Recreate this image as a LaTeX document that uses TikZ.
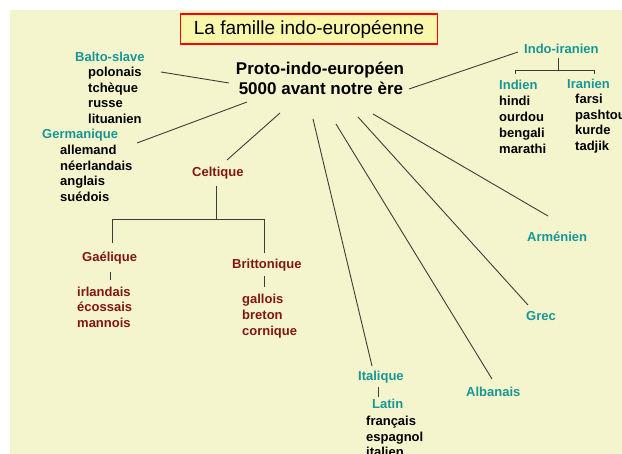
\documentclass[tikz,border=0pt]{standalone}
\usepackage{fontspec}
\setmainfont{Liberation Sans}
\definecolor{bg}{RGB}{245,245,205}
\definecolor{titlefill}{RGB}{248,247,170}
\definecolor{tealc}{RGB}{24,150,150}
\definecolor{dkred}{RGB}{128,22,22}
\definecolor{linec}{RGB}{60,60,60}
\tikzset{
  lang/.style={font=\fontsize{13}{15}\selectfont\bfseries, inner sep=0, anchor=base west},
  grp/.style={lang, text=tealc},
  celt/.style={lang, text=dkred},
  link/.style={draw=linec, line width=0.9pt},
}
\begin{document}
\begin{tikzpicture}[x=1pt,y=-1pt]
\useasboundingbox (0,0) rectangle (622,454);
\fill[bg] (10,10) rectangle (622,454);
% title
\node[draw=red, line width=1.5pt, fill=titlefill, minimum width=257pt, minimum height=30pt, inner sep=0,
      font=\fontsize{19}{22}\selectfont] (title) at (309,29) {La famille indo-européenne};
% root
\node[font=\fontsize{17}{20}\selectfont\bfseries, inner sep=0, anchor=base] (proto1) at (320,75) {Proto-indo-européen};
\node[font=\fontsize{17}{20}\selectfont\bfseries, inner sep=0, anchor=base] (proto2) at (321,95) {5000 avant notre ère};
% groups
\node[grp] (balto) at (75,61.5) {Balto-slave};
\node[grp] (germ) at (42,138.5) {Germanique};
\node[grp] (indoir) at (524,53.5) {Indo-iranien};
\node[grp] (indien) at (499,89.5) {Indien};
\node[grp] (iranien) at (567,88.5) {Iranien};
\node[grp] (armen) at (527,241.5) {Arménien};
\node[grp] (grec) at (526,320.5) {Grec};
\node[grp] (ital) at (358,380.5) {Italique};
\node[grp] (latin) at (372,408.5) {Latin};
\node[grp] (alb) at (466,396.5) {Albanais};
\node[celt] (celtique) at (192,176.5) {Celtique};
\node[celt] (gael) at (82,261.5) {Gaélique};
\node[celt] (britt) at (232,268.5) {Brittonique};
% lists
\foreach \t [count=\i] in {polonais,tchèque,russe,lituanien}
  \node[lang] (bs\i) at (88,76.5+15.7*\i-15.7) {\t};
\foreach \t [count=\i] in {allemand,néerlandais,anglais,suédois}
  \node[lang] (ge\i) at (60,154.5+15.7*\i-15.7) {\t};
\foreach \t [count=\i] in {hindi,ourdou,bengali,marathi}
  \node[lang] (in\i) at (499,105.5+16*\i-16) {\t};
\foreach \t [count=\i] in {farsi,pashtou,kurde,tadjik}
  \node[lang] (ir\i) at (575,103.5+15.7*\i-15.7) {\t};
\foreach \t [count=\i] in {français,espagnol,italien}
  \node[lang] (la\i) at (366,425.5+15.7*\i-15.7) {\t};
\foreach \t [count=\i] in {irlandais,écossais,mannois}
  \node[celt] (ga\i) at (77,296.5+15.5*\i-15.5) {\t};
\foreach \t [count=\i] in {gallois,breton,cornique}
  \node[celt] (br\i) at (242,303.5+16*\i-16) {\t};
% connector end points
\coordinate (pBalto) at (161,72);   \coordinate (rBalto) at (229,83);
\coordinate (pGerm) at (137,143);   \coordinate (rGerm) at (247,102);
\coordinate (pIndo) at (518,52);    \coordinate (rIndo) at (409,89);
\coordinate (pCelt) at (227,160);   \coordinate (rCelt) at (280,113);
\coordinate (pItal) at (372,366);   \coordinate (rItal) at (313,119);
\coordinate (pAlb) at (492,379);    \coordinate (rAlb) at (336,124);
\coordinate (pGrec) at (528,305);   \coordinate (rGrec) at (358,117);
\coordinate (pArm) at (548,216);    \coordinate (rArm) at (373,114);
\draw[link] (pBalto) -- (rBalto);
\draw[link] (pGerm) -- (rGerm);
\draw[link] (pIndo) -- (rIndo);
\draw[link] (pCelt) -- (rCelt);
\draw[link] (pItal) -- (rItal);
\draw[link] (pAlb) -- (rAlb);
\draw[link] (pGrec) -- (rGrec);
\draw[link] (pArm) -- (rArm);
% Celtic tree
\coordinate (cT) at (216,186); \coordinate (cJ) at (216,219);
\coordinate (cL) at (112,243); \coordinate (cR) at (264,253);
\draw[link] (cT) -- (cJ);
\draw[link] (cL) -- (112,219) -- (264,219) -- (cR);
\coordinate (gA) at (110,272); \coordinate (gB) at (110,280);
\draw[link] (gA) -- (gB);
\coordinate (bA) at (264,276); \coordinate (bB) at (264,287);
\draw[link] (bA) -- (bB);
% Indo-iranian bracket
\coordinate (iT) at (558,58); \coordinate (iJ) at (558,70);
\draw[link] (iT) -- (iJ);
\draw[link] (515,74) -- (515,70) -- (594,70) -- (594,74);
% Italic
\coordinate (itA) at (378,387); \coordinate (itB) at (378,397);
\draw[link] (itA) -- (itB);
\end{tikzpicture}
\end{document}
